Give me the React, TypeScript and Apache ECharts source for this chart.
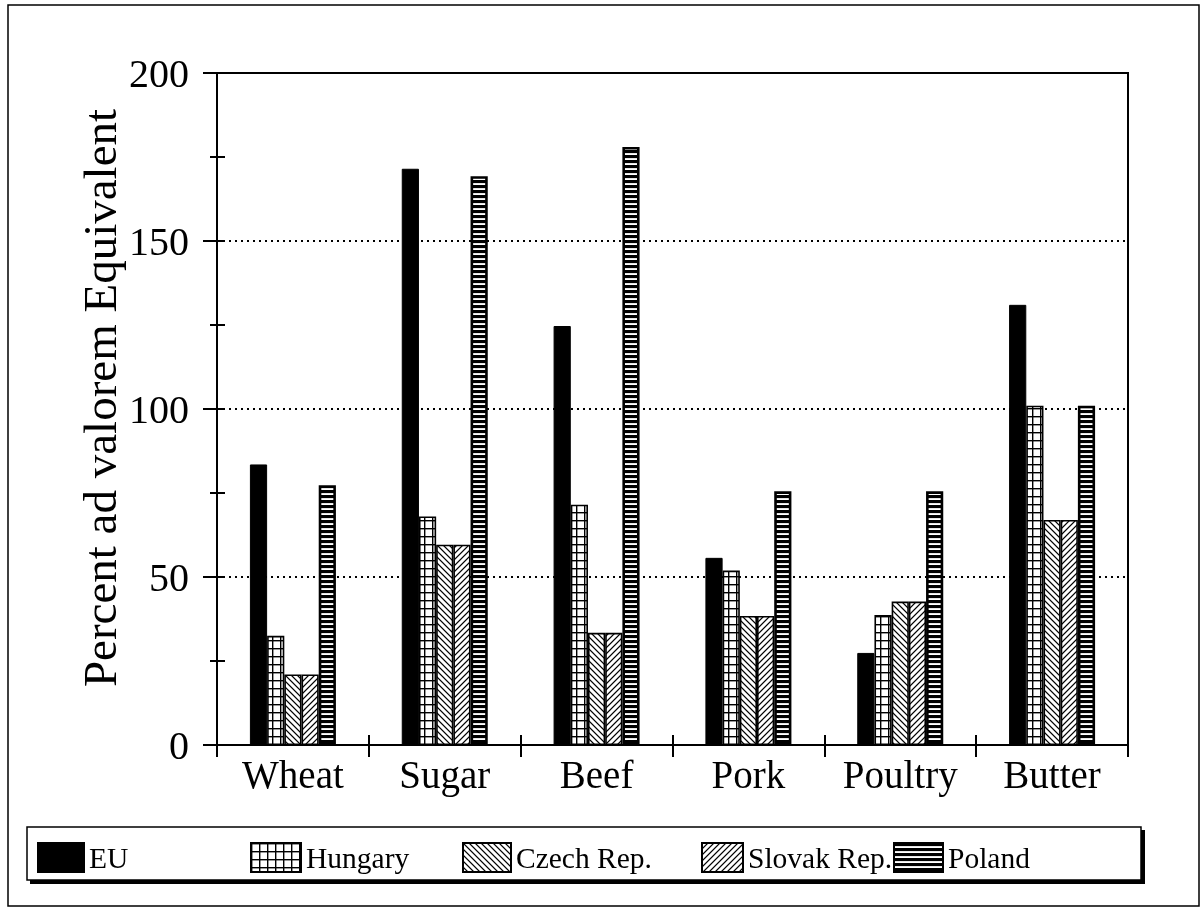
import React, { useEffect, useRef, useState } from 'react';
import * as echarts from 'echarts';

const categories = ['Wheat', 'Sugar', 'Beef', 'Pork', 'Poultry', 'Butter'];
const seriesNames = ['EU', 'Hungary', 'Czech Rep.', 'Slovak Rep.', 'Poland'];
const euValues = [83.5, 171.5, 124.7, 55.7, 27.4, 131];
const hungaryValues = [32.5, 68, 71.5, 51.9, 38.7, 101];
const czechValues = [21, 59.6, 33.4, 38.4, 42.7, 67];
const slovakValues = [21, 59.6, 33.4, 38.4, 42.7, 67];
const polandValues = [77.3, 169.3, 178, 75.5, 75.5, 101];
const yMin = 0;
const yMax = 200;
const yMajor = 50;
const yMinor = 25;
const yTitle = 'Percent ad valorem Equivalent';

const FONT = 'Liberation Serif';

type Drawer = (ctx: CanvasRenderingContext2D, w: number, h: number) => void;

function makeTile(w: number, h: number, draw: Drawer) {
  const s = 4;
  const c = document.createElement('canvas');
  c.width = w * s;
  c.height = h * s;
  const ctx = c.getContext('2d') as CanvasRenderingContext2D;
  ctx.scale(s, s);
  ctx.fillStyle = '#fff';
  ctx.fillRect(0, 0, w, h);
  ctx.fillStyle = '#000';
  ctx.strokeStyle = '#000';
  draw(ctx, w, h);
  return { image: c, repeat: 'repeat', imageWidth: w, imageHeight: h } as any;
}

export default function App() {
  const ref = useRef<HTMLDivElement>(null);
  const [ready, setReady] = useState('');
  useEffect(() => {
    if (!ref.current) return;
    const chart = echarts.init(ref.current, undefined, { renderer: 'svg' });

    const gridPat = makeTile(8, 8, (ctx, w, h) => {
      ctx.fillRect(0, 0, w, 1.4);
      ctx.fillRect(0, 0, 1.4, h);
    });
    const backPat = makeTile(6, 6, (ctx, w) => {
      ctx.lineWidth = 1.2;
      ctx.beginPath();
      for (const k of [-1, 0, 1]) {
        ctx.moveTo(-1, -1 + k * w);
        ctx.lineTo(w + 1, w + 1 + k * w);
      }
      ctx.stroke();
    });
    const fwdPat = makeTile(6, 6, (ctx, w) => {
      ctx.lineWidth = 1.2;
      ctx.beginPath();
      for (const k of [-1, 0, 1]) {
        ctx.moveTo(-1, w + 1 + k * w);
        ctx.lineTo(w + 1, -1 + k * w);
      }
      ctx.stroke();
    });
    const horizPat = makeTile(4, 5, (ctx, w) => {
      ctx.fillRect(0, 0, w, 3.1);
    });

    const fills = ['#000', gridPat, backPat, fwdPat, horizPat];
    const values = [euValues, hungaryValues, czechValues, slovakValues, polandValues];
    const borders = [1, 1.6, 1.6, 1.6, 2.6];

    const series = seriesNames.map((name, i) => ({
      type: 'bar',
      name,
      data: values[i],
      barWidth: 17.2,
      barGap: '0%',
      xAxisIndex: 0,
      yAxisIndex: 0,
      itemStyle: { color: fills[i], borderColor: '#000', borderWidth: borders[i] },
    }));

    const legendLefts = [37, 250, 462, 701, 893];
    const legendWidths = [46, 50, 48, 41, 49];
    const legend = seriesNames.map((name, i) => ({
      data: [name],
      left: legendLefts[i] - 5,
      top: 842 - 5,
      itemWidth: legendWidths[i],
      itemHeight: 29,
      icon: 'rect',
      textStyle: { fontFamily: FONT, fontSize: 29.5, color: '#000' },
    }));

    const baseY = {
      type: 'value',
      min: yMin,
      max: yMax,
      position: 'left',
      axisLabel: { show: false },
      splitLine: { show: false },
      axisLine: { show: false },
    };

    chart.setOption({
      animation: false,
      textStyle: { fontFamily: FONT },
      grid: {
        left: 217,
        right: 74,
        top: 73,
        bottom: 167,
        show: true,
        borderColor: '#000',
        borderWidth: 2,
        backgroundColor: 'transparent',
      },
      legend,
      xAxis: [
        {
          type: 'category',
          data: categories,
          position: 'bottom',
          axisLine: { lineStyle: { color: '#000', width: 2 } },
          axisTick: { show: true, inside: false, length: 12, lineStyle: { color: '#000', width: 2 } },
          axisLabel: { interval: 0, margin: 10, fontFamily: FONT, fontSize: 39, color: '#000' },
          splitLine: { show: false },
        },
        {
          type: 'category',
          data: categories,
          position: 'bottom',
          axisLine: { show: false },
          axisTick: { show: true, inside: true, length: 10, lineStyle: { color: '#000', width: 2 } },
          axisLabel: { show: false },
          splitLine: { show: false },
        },
      ],
      yAxis: [
        {
          type: 'value',
          min: yMin,
          max: yMax,
          interval: yMajor,
          position: 'left',
          axisLine: { show: true, lineStyle: { color: '#000', width: 2 } },
          axisTick: { show: true, inside: false, length: 14, lineStyle: { color: '#000', width: 2 } },
          axisLabel: { margin: 28, fontFamily: FONT, fontSize: 40, color: '#000' },
          splitLine: { show: true, lineStyle: { color: '#000', width: 2, type: [2, 4] } },
        },
        {
          ...baseY,
          interval: yMinor,
          axisTick: { show: true, inside: true, length: 8, lineStyle: { color: '#000', width: 2 } },
        },
        {
          ...baseY,
          interval: yMinor,
          axisTick: { show: true, inside: false, length: 7, lineStyle: { color: '#000', width: 2 } },
        },
      ],
      graphic: [
        {
          type: 'rect',
          z: 0,
          silent: true,
          shape: { x: 8, y: 5, width: 1191, height: 901 },
          style: { fill: 'none', stroke: '#000', lineWidth: 1.5 },
        },
        {
          type: 'rect',
          z: 0,
          silent: true,
          shape: { x: 30, y: 830, width: 1115, height: 54 },
          style: { fill: '#000' },
        },
        {
          type: 'rect',
          z: 1,
          silent: true,
          shape: { x: 27, y: 827, width: 1114, height: 53 },
          style: { fill: '#fff', stroke: '#000', lineWidth: 1.5 },
        },
        {
          type: 'text',
          z: 2,
          silent: true,
          x: 100,
          y: 398,
          rotation: Math.PI / 2,
          style: {
            text: yTitle,
            fontFamily: FONT,
            fontSize: 47,
            fill: '#000',
            align: 'center',
            verticalAlign: 'middle',
          },
        },
      ],
      series,
    });
    setReady(' ');
    return () => chart.dispose();
  }, []);
  return (
    <div>
      <div ref={ref} style={{ position: 'fixed', left: 0, top: 0, width: 1202, height: 912 }} />
      <pre
        style={{
          position: 'fixed',
          left: 0,
          top: 0,
          margin: 0,
          fontSize: 1,
          color: 'transparent',
          fontFamily: 'DejaVu Sans Mono',
          pointerEvents: 'none',
        }}
      >
        {ready}
      </pre>
    </div>
  );
}
